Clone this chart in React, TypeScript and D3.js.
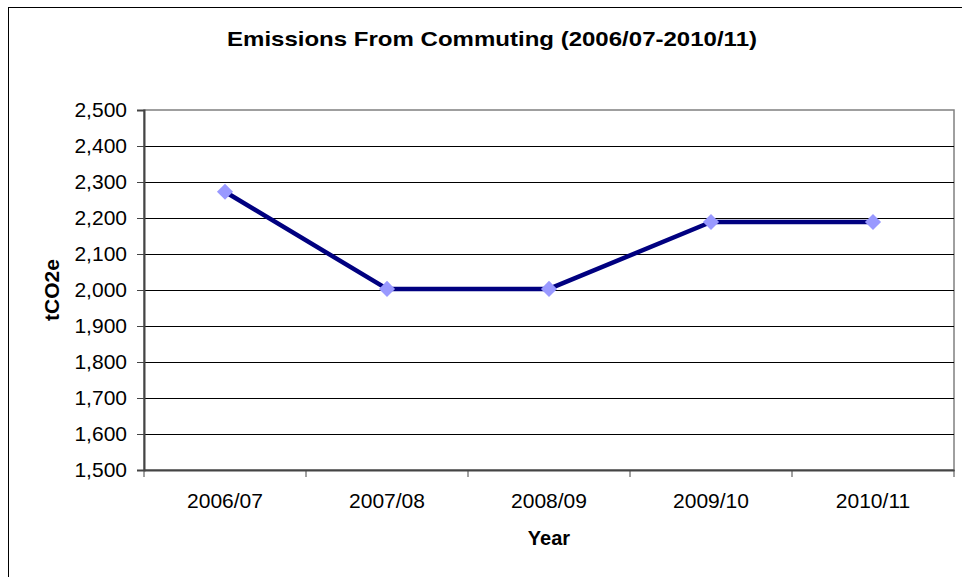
import React, { useEffect, useRef } from "react";
import * as d3 from "d3";

const years = ["2006/07", "2007/08", "2008/09", "2009/10", "2010/11"];
const emissions = [2273, 2003, 2003, 2189, 2189];
const yTicks = [1500, 1600, 1700, 1800, 1900, 2000, 2100, 2200, 2300, 2400, 2500];

const App = () => {
  const svgRef = useRef<SVGSVGElement>(null);

  useEffect(() => {
    const svg = d3.select(svgRef.current);
    svg.selectAll("*").remove();

    const W = 962;
    const H = 577;
    const plot = { left: 144, right: 954, top: 110, bottom: 470 };
    const font = "Arial, 'Liberation Sans', sans-serif";

    // outer chart frame, runs off the right/bottom edge
    svg
      .append("rect")
      .attr("x", 8.5)
      .attr("y", 7.5)
      .attr("width", 990)
      .attr("height", 600)
      .attr("fill", "#fff")
      .attr("stroke", "#000")
      .attr("stroke-width", 1);

    const x = d3.scaleBand<string>().domain(years).range([plot.left, plot.right]);
    const y = d3.scaleLinear().domain([1500, 2500]).range([plot.bottom, plot.top]);

    // plot area border
    svg
      .append("rect")
      .attr("x", plot.left)
      .attr("y", plot.top)
      .attr("width", plot.right - plot.left)
      .attr("height", plot.bottom - plot.top)
      .attr("fill", "none")
      .attr("stroke", "#808080")
      .attr("stroke-width", 1.5);

    // gridlines
    svg
      .append("g")
      .selectAll("line")
      .data(yTicks.slice(1, -1))
      .enter()
      .append("line")
      .attr("x1", plot.left)
      .attr("x2", plot.right)
      .attr("y1", (d) => Math.round(y(d)) + 0.5)
      .attr("y2", (d) => Math.round(y(d)) + 0.5)
      .attr("stroke", "#000")
      .attr("stroke-width", 1);

    // y axis
    const yAxis = svg
      .append("g")
      .attr("transform", `translate(${plot.left},0)`)
      .call(
        d3.axisLeft(y)
          .tickValues(yTicks)
          .tickSize(7)
          .tickPadding(10)
          .tickFormat(d3.format(","))
      );
    yAxis.select(".domain").attr("stroke", "#444").attr("stroke-width", 2);
    yAxis.selectAll(".tick line").attr("stroke", "#444");
    yAxis
      .selectAll("text")
      .attr("fill", "#000")
      .style("font-family", font)
      .style("font-size", "21px");

    // x axis
    const xAxis = svg
      .append("g")
      .attr("transform", `translate(0,${plot.bottom})`)
      .call(d3.axisBottom(x).tickSize(0).tickPadding(23));
    xAxis.select(".domain").attr("stroke", "#444").attr("stroke-width", 2);
    xAxis
      .selectAll("text")
      .attr("fill", "#000")
      .style("font-family", font)
      .style("font-size", "21px");

    // category boundary ticks
    const bounds = years.map((d) => x(d) as number).concat([plot.right]);
    svg
      .append("g")
      .selectAll("line")
      .data(bounds)
      .enter()
      .append("line")
      .attr("x1", (d) => d)
      .attr("x2", (d) => d)
      .attr("y1", plot.bottom)
      .attr("y2", plot.bottom + 7)
      .attr("stroke", "#444")
      .attr("stroke-width", 1);

    const cx = (d: string) => (x(d) as number) + x.bandwidth() / 2;

    const line = d3
      .line<number>()
      .x((d, i) => cx(years[i]))
      .y((d) => y(d));

    svg
      .append("path")
      .datum(emissions)
      .attr("d", line)
      .attr("fill", "none")
      .attr("stroke", "#000080")
      .attr("stroke-width", 4.5)
      .attr("stroke-linejoin", "round");

    svg
      .append("g")
      .selectAll("path")
      .data(emissions)
      .enter()
      .append("path")
      .attr("d", d3.symbol(d3.symbolSquare, 130)())
      .attr("transform", (d, i) => `translate(${cx(years[i])},${y(d)}) rotate(45)`)
      .attr("fill", "#9999ff");

    // titles
    svg
      .append("text")
      .attr("x", 492)
      .attr("y", 46)
      .attr("text-anchor", "middle")
      .attr("textLength", 530)
      .attr("lengthAdjust", "spacingAndGlyphs")
      .style("font-family", font)
      .style("font-size", "21px")
      .style("font-weight", "bold")
      .text("Emissions From Commuting (2006/07-2010/11)");

    svg
      .append("text")
      .attr("x", (plot.left + plot.right) / 2)
      .attr("y", 545)
      .attr("text-anchor", "middle")
      .style("font-family", font)
      .style("font-size", "20px")
      .style("font-weight", "bold")
      .text("Year");

    svg
      .append("text")
      .attr("transform", `translate(59,${(plot.top + plot.bottom) / 2}) rotate(-90)`)
      .attr("text-anchor", "middle")
      .style("font-family", font)
      .style("font-size", "21px")
      .style("font-weight", "bold")
      .text("tCO2e");

    svg.attr("width", W).attr("height", H);
  }, []);

  return (
    <svg
      ref={svgRef}
      width={962}
      height={577}
      style={{ position: "absolute", left: 0, top: 0, background: "#fff" }}
    ></svg>
  );
};

export default App;
